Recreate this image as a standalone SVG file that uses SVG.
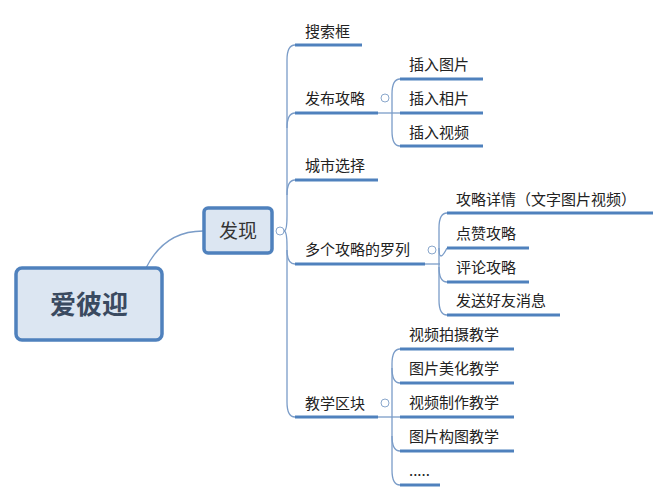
<svg xmlns="http://www.w3.org/2000/svg" width="670" height="500" viewBox="0 0 670 500">
<style>
text{font-family:"Microsoft YaHei","Noto Sans CJK SC",sans-serif;fill:#222;font-size:15px}
.u{stroke:#4f81bd;stroke-width:3;fill:none}
.c{stroke:#7a9cc8;stroke-width:1.3;fill:none}
.box{fill:#dce6f2;stroke:#4f81bd;stroke-width:3.5}
.col{fill:#fff;stroke:#8aa7cc;stroke-width:1}
</style>
<rect width="670" height="500" fill="#fff"/>
<g id="connectors">
<path class="c" d="M146,268 C160,240 180,231 203,231"/>
<path class="c" d="M276,231 L284,231"/>
<path class="c" d="M295,45 Q287,45 287,60 L287,216 Q287,231 284,231"/>
<path class="c" d="M295,113 Q287,113 287,128"/>
<path class="c" d="M295,180 Q287,180 287,195"/>
<path class="c" d="M284,231 Q287,231 287,246 L287,402 Q287,417 295,417"/>
<path class="c" d="M287,250 Q287,264 295,264"/>
<path class="c" d="M378,113 L400,113"/>
<path class="c" d="M400,79 Q392,79 392,94 L392,131 Q392,146 400,146"/>
<path class="c" d="M425,264 L440,264"/>
<path class="c" d="M447,213 Q439,213 439,228 L439,300 Q439,315 447,315"/>
<path class="c" d="M439,248 Q439,264 447,248"/>
<path class="c" d="M439,267 Q439,282 447,282"/>
<path class="c" d="M378,417 L400,417"/>
<path class="c" d="M400,349 Q392,349 392,364 L392,470 Q392,485 400,485"/>
<path class="c" d="M392,368 Q392,383 400,383"/>
<path class="c" d="M392,436 Q392,451 400,451"/>
</g>
<g id="root"><rect class="box" x="16" y="268" width="146" height="72" rx="6"/><text x="89" y="314" text-anchor="middle" style="font-size:26px;font-weight:bold;fill:#3a4a60">爱彼迎</text></g>
<g id="faxian"><rect class="box" x="204" y="208" width="68" height="45" rx="4"/><text x="238" y="238" text-anchor="middle" style="font-size:19px;fill:#333">发现</text><circle class="col" cx="280" cy="231" r="4"/></g>
<g id="n1"><path class="u" d="M295,45H362"/><text x="305" y="37">搜索框</text></g>
<g id="n2"><path class="u" d="M295,113H378"/><text x="305" y="104">发布攻略</text><circle class="col" cx="385" cy="98" r="4"/></g>
<g id="n21"><path class="u" d="M400,79H483"/><text x="409" y="70">插入图片</text></g>
<g id="n22"><path class="u" d="M400,113H483"/><text x="409" y="104">插入相片</text></g>
<g id="n23"><path class="u" d="M400,146H483"/><text x="409" y="138">插入视频</text></g>
<g id="n3"><path class="u" d="M295,180H378"/><text x="305" y="171">城市选择</text></g>
<g id="n4"><path class="u" d="M295,264H425"/><text x="305" y="255">多个攻略的罗列</text><circle class="col" cx="432" cy="250" r="4"/></g>
<g id="n41"><path class="u" d="M447,213H653"/><text x="456" y="205">攻略详情（文字图片视频）</text></g>
<g id="n42"><path class="u" d="M447,248H529"/><text x="456" y="239">点赞攻略</text></g>
<g id="n43"><path class="u" d="M447,282H529"/><text x="456" y="273">评论攻略</text></g>
<g id="n44"><path class="u" d="M447,315H560"/><text x="456" y="306">发送好友消息</text></g>
<g id="n5"><path class="u" d="M295,417H378"/><text x="305" y="409">教学区块</text><circle class="col" cx="385" cy="403" r="4"/></g>
<g id="n51"><path class="u" d="M400,349H514"/><text x="409" y="340">视频拍摄教学</text></g>
<g id="n52"><path class="u" d="M400,383H514"/><text x="409" y="374">图片美化教学</text></g>
<g id="n53"><path class="u" d="M400,417H514"/><text x="409" y="408">视频制作教学</text></g>
<g id="n54"><path class="u" d="M400,451H514"/><text x="409" y="442">图片构图教学</text></g>
<g id="n55"><path class="u" d="M400,485H440"/><text x="409" y="476">.....</text></g>
</svg>
